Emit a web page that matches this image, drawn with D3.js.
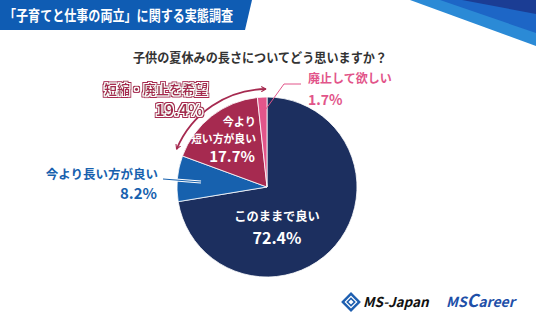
<!DOCTYPE html>
<html><head><meta charset="utf-8">
<script src="https://cdn.jsdelivr.net/npm/d3@7"></script>
<style>
html,body{margin:0;padding:0;background:#fff;}
svg{display:block;}
text{font-family:"Noto Sans CJK JP","Noto Sans",sans-serif;}
</style></head>
<body>
<svg id="c" width="536" height="331"></svg>
<script>
// ---- data ----
const categories = ["このままで良い", "今より長い方が良い", "今より短い方が良い", "廃止して欲しい"];
const values = [72.4, 8.2, 17.7, 1.7];
const colors = ["#1c2f5f", "#1761ae", "#a62a50", "#e2558a"];
const title = "「子育てと仕事の両立」に関する実態調査";
const question = "子供の夏休みの長さについてどう思いますか？";
const groupLabel = "短縮・廃止を希望";
const groupValue = 19.4;

const svg = d3.select("#c");
const defs = svg.append("defs");

// outline filter: crimson fill, white inner ring, crimson outer ring
const f = defs.append("filter").attr("id", "ol").attr("x", "-10%").attr("y", "-30%")
  .attr("width", "120%").attr("height", "160%");
f.append("feMorphology").attr("in", "SourceAlpha").attr("operator", "dilate").attr("radius", 1).attr("result", "d1");
f.append("feMorphology").attr("in", "SourceAlpha").attr("operator", "dilate").attr("radius", 2).attr("result", "d2");
f.append("feFlood").attr("flood-color", "#a62a50").attr("result", "cr");
f.append("feComposite").attr("in", "cr").attr("in2", "d2").attr("operator", "in").attr("result", "outer");
f.append("feFlood").attr("flood-color", "#ffffff").attr("result", "wh");
f.append("feComposite").attr("in", "wh").attr("in2", "d1").attr("operator", "in").attr("result", "inner");
const fm = f.append("feMerge");
fm.append("feMergeNode").attr("in", "outer");
fm.append("feMergeNode").attr("in", "inner");
fm.append("feMergeNode").attr("in", "SourceGraphic");

// ---- header decorations ----
svg.append("path").attr("d", "M0,0 L252,0 L245,30 L0,30 Z").attr("fill", "#0f5cb3");
svg.append("text").attr("x", 4).attr("y", 21).attr("fill", "#fff")
  .attr("font-size", 14.5).attr("font-weight", 700)
  .attr("textLength", 229).attr("lengthAdjust", "spacingAndGlyphs").text(title);

svg.append("path").attr("d", "M410,0 L536,0 L536,46 Z").attr("fill", "#2b8ad6");
svg.append("path").attr("d", "M440,0 L536,0 L536,33 Z").attr("fill", "#1d66c6");
svg.append("path").attr("d", "M462,0 L536,0 L536,14 Z").attr("fill", "#1b3d94");

svg.append("text").attr("x", 133).attr("y", 62)
  .attr("fill", "#333").attr("font-size", 12.8).attr("font-weight", 700)
  .attr("textLength", 254).attr("lengthAdjust", "spacingAndGlyphs").text(question);

// ---- pie ----
const cx = 267, cy = 187, R = 90;
const g = svg.append("g").attr("transform", `translate(${cx},${cy})`);
const pie = d3.pie().sort(null).value(d => d)(values);
const arc = d3.arc().innerRadius(0).outerRadius(R);
g.selectAll("path.slice").data(pie).enter().append("path")
  .attr("class", "slice").attr("d", arc)
  .attr("fill", (d, i) => colors[i]).attr("stroke", "#fff").attr("stroke-width", 0.8);

// ---- arc arrow for 短縮・廃止 group ----
const a0 = pie[2].startAngle + 0.045, a1 = pie[3].endAngle - 0.012;
const arcLine = d3.path();
arcLine.arc(0, 0, 98, a0 - Math.PI / 2, a1 - Math.PI / 2);
function marker(id, color, w) {
  defs.append("marker").attr("id", id).attr("viewBox", "0 0 10 10")
    .attr("refX", 8).attr("refY", 5).attr("markerWidth", 6).attr("markerHeight", 6)
    .attr("markerUnits", "userSpaceOnUse").attr("orient", "auto-start-reverse")
    .append("path").attr("d", "M1,1 L8,5 L1,9").attr("fill", "none")
    .attr("stroke", color).attr("stroke-width", w).attr("stroke-linecap", "round").attr("stroke-linejoin", "round");
}
marker("mw", "#fff", 3.6);
marker("mc", "#a62a50", 1.8);
g.append("path").attr("d", arcLine.toString()).attr("fill", "none")
  .attr("stroke", "#fff").attr("stroke-width", 4)
  .attr("marker-start", "url(#mw)").attr("marker-end", "url(#mw)");
g.append("path").attr("d", arcLine.toString()).attr("fill", "none")
  .attr("stroke", "#a62a50").attr("stroke-width", 1.8)
  .attr("marker-start", "url(#mc)").attr("marker-end", "url(#mc)");

// ---- leader lines ----
svg.append("polyline").attr("points", "163,179 201,182").attr("fill", "none")
  .attr("stroke", "#fff").attr("stroke-width", 3);
svg.append("polyline").attr("points", "163,179 201,182").attr("fill", "none")
  .attr("stroke", colors[1]).attr("stroke-width", 1.2);
svg.append("polyline").attr("points", "301,84 284,84 263,113").attr("fill", "none")
  .attr("stroke", colors[3]).attr("stroke-width", 1);

// ---- labels ----
const fmt = v => v.toFixed(1) + "%";
function lbl(x, y, size, fill, anchor, txt) {
  return svg.append("text").attr("x", x).attr("y", y).attr("text-anchor", anchor)
    .attr("fill", fill).attr("font-size", size).attr("font-weight", 700).text(txt);
}
// inside navy
lbl(277, 221, 12.2, "#fff", "middle", categories[0]);
lbl(277, 244, 16, "#fff", "middle", fmt(values[0]));
// inside crimson
lbl(256, 126, 11.2, "#fff", "end", "今より");
lbl(256, 142.5, 11.2, "#fff", "end", "短い方が良い").attr("textLength", 65).attr("lengthAdjust", "spacingAndGlyphs");
lbl(255, 161.5, 15, "#fff", "end", fmt(values[2]));
// blue outside
lbl(158, 179, 12.5, colors[1], "end", categories[1]);
lbl(157, 199, 15, colors[1], "end", fmt(values[1]));
// pink outside
lbl(308, 83, 12, colors[3], "start", categories[3]);
lbl(308, 105, 14, colors[3], "start", fmt(values[3]));
// group label with outlined text
lbl(208, 94, 13, "#a62a50", "end", groupLabel).attr("filter", "url(#ol)");
lbl(203, 115.5, 15.5, "#a62a50", "end", fmt(groupValue)).attr("filter", "url(#ol)");

// ---- logos ----
const lg = svg.append("g").attr("transform", "translate(351,302)");
lg.append("rect").attr("x", -7).attr("y", -7).attr("width", 14).attr("height", 14)
  .attr("transform", "rotate(45)").attr("fill", "#1e5fb0");
lg.append("rect").attr("x", -4).attr("y", -4).attr("width", 8).attr("height", 8)
  .attr("transform", "rotate(45)").attr("fill", "none").attr("stroke", "#fff").attr("stroke-width", 1.2);
lg.append("rect").attr("x", -1.8).attr("y", -1.8).attr("width", 3.6).attr("height", 3.6)
  .attr("transform", "rotate(45)").attr("fill", "#fff");
svg.append("text").attr("x", 363).attr("y", 307).attr("fill", "#111")
  .attr("font-family", "Liberation Sans, Arial, sans-serif").attr("font-size", 13.5)
  .attr("font-weight", 700).attr("font-style", "italic").text("MS-Japan");
const mc = svg.append("text").attr("x", 446).attr("y", 307).attr("fill", "#1e4fa8")
  .attr("font-family", "Liberation Sans, Arial, sans-serif")
  .attr("font-weight", 700).attr("font-style", "italic");
mc.append("tspan").attr("font-size", 14).text("MS");
mc.append("tspan").attr("font-size", 17.5).text("C");
mc.append("tspan").attr("font-size", 14).text("areer");
</script>
</body></html>
